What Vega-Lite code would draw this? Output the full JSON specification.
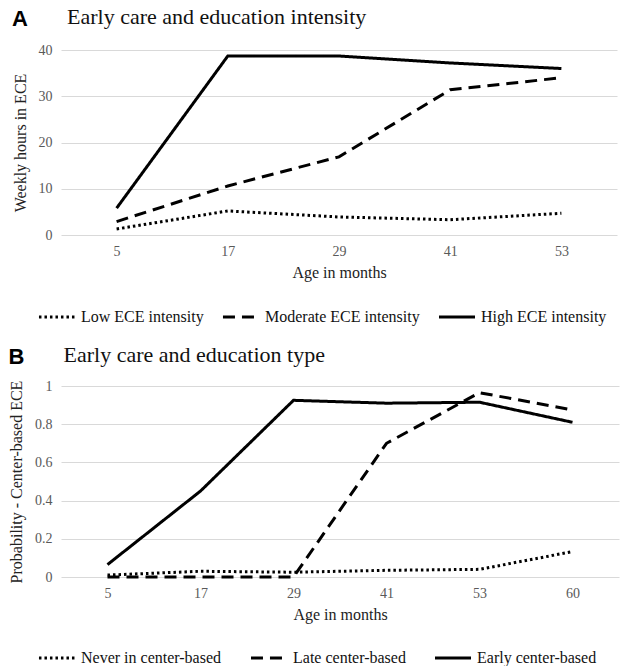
{
  "$schema": "https://vega.github.io/schema/vega-lite/v6.json",
  "background": "white",
  "padding": {"left": 8, "top": 6, "right": 4, "bottom": 2},
  "spacing": 19,
  "config": {
    "font": "'Liberation Serif', 'DejaVu Serif', serif",
    "view": {"stroke": null},
    "axis": {
      "domain": false,
      "ticks": false,
      "gridColor": "#d9d9d9",
      "gridWidth": 1.2,
      "labelFont": "'Liberation Serif', 'DejaVu Serif', serif",
      "labelFontSize": 14,
      "labelColor": "#595959",
      "labelPadding": 9,
      "titleFont": "'Liberation Serif', 'DejaVu Serif', serif",
      "titleFontSize": 16,
      "titleFontWeight": "normal",
      "titleColor": "#222222"
    },
    "axisX": {"grid": false, "labelAngle": 0, "titlePadding": 6},
    "axisY": {"titlePadding": 10},
    "legend": {
      "orient": "none",
      "direction": "horizontal",
      "symbolType": "stroke",
      "symbolSize": 1300,
      "symbolStrokeWidth": 3,
      "symbolStrokeColor": "black",
      "labelFont": "'Liberation Serif', 'DejaVu Serif', serif",
      "labelFontSize": 16,
      "labelColor": "#111111",
      "columnPadding": 12
    }
  },
  "vconcat": [
    {
      "title": {
        "text": "A",
        "subtitle": "\u200b\u00a0\u00a0\u00a0\u00a0\u00a0\u00a0\u00a0\u00a0\u00a0\u00a0Early care and education intensity",
        "anchor": "start",
        "frame": "bounds",
        "font": "'Liberation Sans', Arial, sans-serif",
        "fontSize": 22,
        "fontWeight": "bold",
        "color": "black",
        "subtitleFont": "'Liberation Serif', 'DejaVu Serif', serif",
        "subtitleFontSize": 22,
        "subtitleColor": "#111111",
        "subtitlePadding": -24,
        "offset": 10
      },
      "width": 556,
      "height": 185,
      "data": {
        "values": [
          {"age": 5, "hours": 1.3, "group": "Low ECE intensity"},
          {"age": 17, "hours": 5.2, "group": "Low ECE intensity"},
          {"age": 29, "hours": 3.9, "group": "Low ECE intensity"},
          {"age": 41, "hours": 3.3, "group": "Low ECE intensity"},
          {"age": 53, "hours": 4.7, "group": "Low ECE intensity"},
          {"age": 5, "hours": 2.9, "group": "Moderate ECE intensity"},
          {"age": 17, "hours": 10.6, "group": "Moderate ECE intensity"},
          {"age": 29, "hours": 16.9, "group": "Moderate ECE intensity"},
          {"age": 41, "hours": 31.4, "group": "Moderate ECE intensity"},
          {"age": 53, "hours": 34.0, "group": "Moderate ECE intensity"},
          {"age": 5, "hours": 5.8, "group": "High ECE intensity"},
          {"age": 17, "hours": 38.7, "group": "High ECE intensity"},
          {"age": 29, "hours": 38.7, "group": "High ECE intensity"},
          {"age": 41, "hours": 37.2, "group": "High ECE intensity"},
          {"age": 53, "hours": 36.0, "group": "High ECE intensity"}
        ]
      },
      "mark": {"type": "line", "color": "black", "strokeWidth": 3},
      "encoding": {
        "x": {
          "field": "age",
          "type": "ordinal",
          "scale": {"type": "point", "padding": 0.5},
          "axis": {"title": "Age in months"}
        },
        "y": {
          "field": "hours",
          "type": "quantitative",
          "scale": {"domain": [0, 40]},
          "axis": {"title": "Weekly hours in ECE", "values": [0, 10, 20, 30, 40]}
        },
        "strokeDash": {
          "field": "group",
          "type": "nominal",
          "sort": ["Low ECE intensity", "Moderate ECE intensity", "High ECE intensity"],
          "scale": {
            "domain": ["Low ECE intensity", "Moderate ECE intensity", "High ECE intensity"],
            "range": [[2.5, 3], [12, 7], [1, 0]]
          },
          "legend": {"title": null, "legendX": -24, "legendY": 247}
        }
      }
    },
    {
      "title": {
        "text": "B",
        "subtitle": "\u200b\u00a0\u00a0\u00a0\u00a0\u00a0\u00a0\u00a0\u00a0\u00a0\u00a0Early care and education type",
        "anchor": "start",
        "frame": "bounds",
        "font": "'Liberation Sans', Arial, sans-serif",
        "fontSize": 22,
        "fontWeight": "bold",
        "color": "black",
        "subtitleFont": "'Liberation Serif', 'DejaVu Serif', serif",
        "subtitleFontSize": 22,
        "subtitleColor": "#111111",
        "subtitlePadding": -24,
        "offset": 8
      },
      "width": 558,
      "height": 191,
      "data": {
        "values": [
          {"age": 5, "prob": 0.01, "group": "Never in center-based"},
          {"age": 17, "prob": 0.03, "group": "Never in center-based"},
          {"age": 29, "prob": 0.025, "group": "Never in center-based"},
          {"age": 41, "prob": 0.035, "group": "Never in center-based"},
          {"age": 53, "prob": 0.04, "group": "Never in center-based"},
          {"age": 60, "prob": 0.133, "group": "Never in center-based"},
          {"age": 5, "prob": 0.0, "group": "Late center-based"},
          {"age": 17, "prob": 0.0, "group": "Late center-based"},
          {"age": 29, "prob": 0.0, "group": "Late center-based"},
          {"age": 41, "prob": 0.70, "group": "Late center-based"},
          {"age": 53, "prob": 0.965, "group": "Late center-based"},
          {"age": 60, "prob": 0.875, "group": "Late center-based"},
          {"age": 5, "prob": 0.065, "group": "Early center-based"},
          {"age": 17, "prob": 0.45, "group": "Early center-based"},
          {"age": 29, "prob": 0.925, "group": "Early center-based"},
          {"age": 41, "prob": 0.91, "group": "Early center-based"},
          {"age": 53, "prob": 0.915, "group": "Early center-based"},
          {"age": 60, "prob": 0.81, "group": "Early center-based"}
        ]
      },
      "mark": {"type": "line", "color": "black", "strokeWidth": 3},
      "encoding": {
        "x": {
          "field": "age",
          "type": "ordinal",
          "scale": {"type": "point", "padding": 0.5},
          "axis": {"title": "Age in months"}
        },
        "y": {
          "field": "prob",
          "type": "quantitative",
          "scale": {"domain": [0, 1]},
          "axis": {"title": "Probability - Center-based ECE", "values": [0, 0.2, 0.4, 0.6, 0.8, 1], "format": ".1~f"}
        },
        "strokeDash": {
          "field": "group",
          "type": "nominal",
          "sort": ["Never in center-based", "Late center-based", "Early center-based"],
          "scale": {
            "domain": ["Never in center-based", "Late center-based", "Early center-based"],
            "range": [[2.5, 3], [12, 7], [1, 0]]
          },
          "legend": {"title": null, "legendX": -24, "legendY": 252, "columnPadding": 22}
        }
      }
    }
  ],
  "resolve": {"scale": {"strokeDash": "independent"}, "legend": {"strokeDash": "independent"}}
}
